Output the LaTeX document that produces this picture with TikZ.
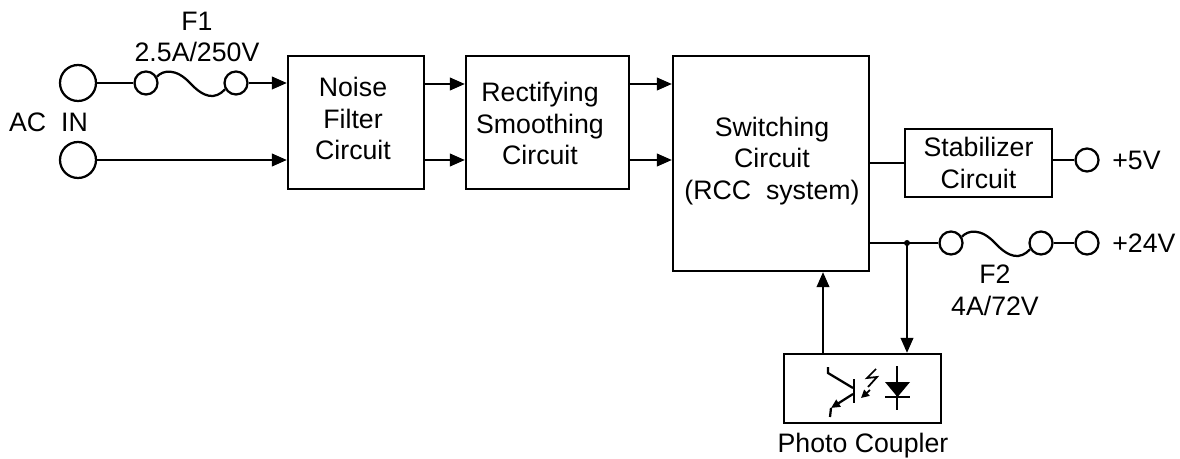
\documentclass[tikz,border=0pt]{standalone}
\usepackage{fontspec}
\setmainfont{Liberation Sans}
\usetikzlibrary{arrows.meta}
\tikzset{
	block/.style={draw, line width=0.045cm, align=center, inner sep=0pt},
	term/.style={draw, circle, line width=0.045cm, inner sep=0pt, minimum size=0.72cm},
	fusepin/.style={draw, circle, line width=0.045cm, inner sep=0pt, minimum size=0.46cm},
	label/.style={align=center, inner sep=0pt},
	wire/.style={line width=0.045cm},
	feed/.style={line width=0.045cm, -{Triangle[length=0.3cm,width=0.25cm]}},
}
\begin{document}
\begin{tikzpicture}[x=0.02cm, y=-0.02cm, font=\fontsize{15.2}{18}\selectfont]
	\useasboundingbox (0,0) rectangle (1180,459);

	% blocks
	\node[block, minimum width=2.72cm, minimum height=2.66cm] (noise) at (356,122.5) {};
	\node[block, minimum width=3.26cm, minimum height=2.66cm] (rect) at (547.5,122.5) {};
	\node[block, minimum width=3.92cm, minimum height=4.3cm] (switch) at (771,163.5) {};
	\node[block, minimum width=2.94cm, minimum height=1.36cm] (stab) at (978.5,163) {Stabilizer\\Circuit};
	\node[block, minimum width=3.14cm, minimum height=1.38cm] (coupler) at (862.5,388.5) {};

	% terminals and fuse ends
	\node[term] (ina) at (78,83) {};
	\node[term] (inb) at (78,160) {};
	\node[fusepin] (f1a) at (146,83) {};
	\node[fusepin] (f1b) at (236,83) {};
	\node[fusepin] (f2a) at (951,243) {};
	\node[fusepin] (f2b) at (1041,243) {};
	\node[fusepin] (outa) at (1087,160) {};
	\node[fusepin] (outb) at (1087,243) {};

	% labels
	\node[label] (noisename) at (353,118.5) {Noise\\Filter\\Circuit};
	\node[label] (rectname) at (540,123.5) {Rectifying\\Smoothing\\Circuit};
	\node[label] (switchname) at (772,161) {Switching\\Circuit\\(RCC\ \ system)};
	\node[label] (f1name) at (197,21) {F1};
	\node[label] (f1rate) at (197,52) {2.5A/250V};
	\node[label] (acin) at (48.5,122) {AC\ \ IN};
	\node[label] (f2name) at (995,274) {F2};
	\node[label] (f2rate) at (995,306) {4A/72V};
	\node[label, anchor=west] (fivev) at (1112,160) {+5V};
	\node[label, anchor=west] (tfv) at (1112,243) {+24V};
	\node[label] (pcname) at (863,446) {Photo Coupler};

	% input side
	\draw[wire] (ina) -- (f1a);
	\draw[wire] (f1a.30) .. controls (163,70) and (176,68) .. (190,83)
		.. controls (204,98) and (215,100) .. (f1b.210);
	\draw[feed] (f1b) -- (noise.west |- f1b);
	\draw[feed] (inb) -- (noise.west |- inb);
	\coordinate (up) at (0,84);
	\coordinate (lo) at (0,160);
	\draw[feed] (noise.east |- up) -- (rect.west |- up);
	\draw[feed] (noise.east |- lo) -- (rect.west |- lo);
	\draw[feed] (rect.east |- up) -- (switch.west |- up);
	\draw[feed] (rect.east |- lo) -- (switch.west |- lo);

	% output side
	\draw[wire] (switch.east |- stab) -- (stab);
	\draw[wire] (stab.east |- outa) -- (outa);
	\coordinate (tap) at (907,243);
	\draw[wire] (switch.east |- tap) -- (f2a);
	\draw[wire] (f2a.30) .. controls (968,230) and (981,228) .. (995,243)
		.. controls (1009,258) and (1020,260) .. (f2b.210);
	\draw[wire] (f2b) -- (outb);
	\fill (tap) circle[radius=0.06cm];
	\draw[feed] (tap) -- (tap |- coupler.north);
	\coordinate (back) at (823,354);
	\draw[feed] (back) -- (back |- switch.south);

	% photo transistor
	\draw[line width=0.055cm] (854,379) -- (854,403);
	\draw[wire] (853,388) -- (828,373) -- (828,367);
	\draw[wire, -{Triangle[length=0.18cm,width=0.16cm]}] (853,394) -- (831,408);
	\draw[wire] (831,408) -- (830,417);
	% light
	\draw[line width=0.035cm] (876,369) -- (867,378) -- (877,377) -- (868,387);
	\draw[line width=0.035cm, -{Triangle[length=0.16cm,width=0.16cm]}] (870,390) -- (861,398);
	% diode
	\draw[wire] (897,366) -- (897,410);
	\draw[wire] (885,397) -- (910,397);
	\fill (885,382) -- (910,382) -- (897.5,397) -- cycle;
\end{tikzpicture}
\end{document}
